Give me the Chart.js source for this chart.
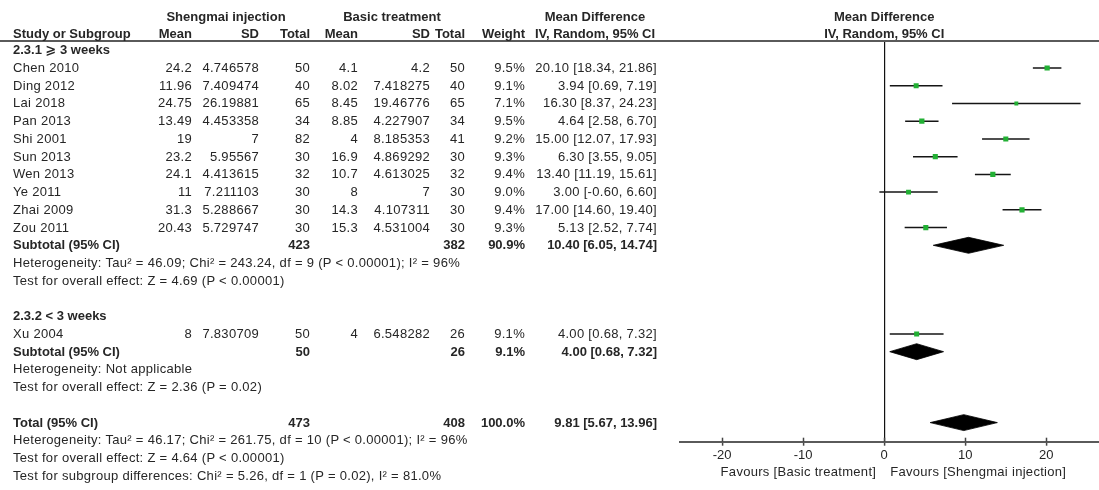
<!DOCTYPE html>
<html>
<head>
<meta charset="utf-8">
<script src="https://cdn.jsdelivr.net/npm/chart.js@4.4.0/dist/chart.umd.min.js"></script>
<style>
  html, body { margin: 0; padding: 0; background: #fff; }
  #wrap { position: relative; width: 1099px; height: 490px; overflow: hidden;
          font-family: "Liberation Sans", Arial, "DejaVu Sans", "Noto Sans CJK SC", sans-serif; color: #262626; }
  #chart { position: absolute; left: 0; top: 0; }
  .t { position: absolute; white-space: nowrap; font-size: 13px; line-height: 18px; height: 18px; letter-spacing: 0.3px; }
  .b { font-weight: bold; letter-spacing: 0; }
  #rule { position: absolute; left: 0; top: 40px; width: 1099px; height: 2px; background: #5a5a5a; }
</style>
</head>
<body>
<div id="wrap">
  <canvas id="chart" width="1099" height="490"></canvas>
  <div id="rule"></div>
</div>
<script>
// ---- study data ----
const studyNames = ['Chen 2010', 'Ding 2012', 'Lai 2018', 'Pan 2013', 'Shi 2001', 'Sun 2013',
                    'Wen 2013', 'Ye 2011', 'Zhai 2009', 'Zou 2011', 'Xu 2004'];
const subgroupOf = [0, 0, 0, 0, 0, 0, 0, 0, 0, 0, 1];
const smMean  = [24.2, 11.96, 24.75, 13.49, 19, 23.2, 24.1, 11, 31.3, 20.43, 8];
const smSD    = [4.746578, 7.409474, 26.19881, 4.453358, 7, 5.95567, 4.413615, 7.211103, 5.288667, 5.729747, 7.830709];
const smTotal = [50, 40, 65, 34, 82, 30, 32, 30, 30, 30, 50];
const btMean  = [4.1, 8.02, 8.45, 8.85, 4, 16.9, 10.7, 8, 14.3, 15.3, 4];
const btSD    = [4.2, 7.418275, 19.46776, 4.227907, 8.185353, 4.869292, 4.613025, 7, 4.107311, 4.531004, 6.548282];
const btTotal = [50, 40, 65, 34, 41, 30, 32, 30, 30, 30, 26];
const weight  = [9.5, 9.1, 7.1, 9.5, 9.2, 9.3, 9.4, 9.0, 9.4, 9.3, 9.1];
const md      = [20.10, 3.94, 16.30, 4.64, 15.00, 6.30, 13.40, 3.00, 17.00, 5.13, 4.00];
const ciLow   = [18.34, 0.69, 8.37, 2.58, 12.07, 3.55, 11.19, -0.60, 14.60, 2.52, 0.68];
const ciHigh  = [21.86, 7.19, 24.23, 6.70, 17.93, 9.05, 15.61, 6.60, 19.40, 7.74, 7.32];

// ---- pooled estimates: subgroup 1, subgroup 2, overall ----
const pooledLabels  = ['Subtotal (95% CI)', 'Subtotal (95% CI)', 'Total (95% CI)'];
const pooledSmTotal = [423, 50, 473];
const pooledBtTotal = [382, 26, 408];
const pooledWeight  = [90.9, 9.1, 100.0];
const pooledMd      = [10.40, 4.00, 9.81];
const pooledLow     = [6.05, 0.68, 5.67];
const pooledHigh    = [14.74, 7.32, 13.96];

const subgroupTitles = ['2.3.1 \u2A7E 3 weeks', '2.3.2 < 3 weeks'];
const heterogeneityNotes = [
  'Heterogeneity: Tau\u00B2 = 46.09; Chi\u00B2 = 243.24, df = 9 (P < 0.00001); I\u00B2 = 96%',
  'Heterogeneity: Not applicable',
  'Heterogeneity: Tau\u00B2 = 46.17; Chi\u00B2 = 261.75, df = 10 (P < 0.00001); I\u00B2 = 96%'
];
const effectNotes = [
  'Test for overall effect: Z = 4.69 (P < 0.00001)',
  'Test for overall effect: Z = 2.36 (P = 0.02)',
  'Test for overall effect: Z = 4.64 (P < 0.00001)'
];
const subgroupDiffNote = 'Test for subgroup differences: Chi\u00B2 = 5.26, df = 1 (P = 0.02), I\u00B2 = 81.0%';

// ---- axis ----
const tickValues = [-20, -10, 0, 10, 20];
const favourLeft = 'Favours [Basic treatment]';
const favourRight = 'Favours [Shengmai injection]';

// ---- row layout (one row per line of the table) ----
const studyRow = [], pooledRow = [], hetRow = [], effectRow = [], titleRow = [];
let row = 0;
subgroupTitles.forEach((title, g) => {
  titleRow[g] = row++;
  studyNames.forEach((n, i) => { if (subgroupOf[i] === g) studyRow[i] = row++; });
  pooledRow[g] = row++;
  hetRow[g] = row++;
  effectRow[g] = row++;
  row++;
});
pooledRow[2] = row++;
hetRow[2] = row++;
effectRow[2] = row++;
const subgroupDiffRow = row++;

// ---- styling ----
const GREEN = 'rgb(34,176,52)';
const LINE = '#151515';
const DIAMOND_HALF = 0.45;   // half-height of the pooled diamonds, in rows
const FONT = '"Liberation Sans", Arial, sans-serif';

Chart.defaults.font.family = FONT;

const datasets = [];
datasets.push({
  type: 'scatter',
  data: md.map((v, i) => ({ x: v, y: studyRow[i] })),
  pointStyle: 'rect',
  pointRadius: weight.map(w => w * 0.55 / Math.SQRT2),
  backgroundColor: GREEN,
  borderWidth: 0,
  order: 0
});
md.forEach((v, i) => {
  datasets.push({
    type: 'line',
    data: [{ x: ciLow[i], y: studyRow[i] }, { x: ciHigh[i], y: studyRow[i] }],
    borderColor: LINE, borderWidth: 1.5, pointRadius: 0, fill: false, order: 2
  });
});
pooledMd.forEach((v, k) => {
  const r = pooledRow[k];
  datasets.push({
    type: 'line',
    data: [
      { x: pooledLow[k], y: r },
      { x: v, y: r - DIAMOND_HALF },
      { x: pooledHigh[k], y: r },
      { x: v, y: r + DIAMOND_HALF },
      { x: pooledLow[k], y: r }
    ],
    borderColor: '#000', borderWidth: 0.8, backgroundColor: '#000',
    pointRadius: 0, fill: 'shape', tension: 0, order: 1
  });
});

// short tick marks on the upper side of the axis line
const innerTicks = {
  id: 'innerTicks',
  afterDraw(chart) {
    const s = chart.scales.x, ctx = chart.ctx, y = chart.chartArea.bottom;
    ctx.save();
    ctx.strokeStyle = '#444';
    ctx.lineWidth = 1.5;
    s.ticks.forEach(t => {
      const x = Math.round(s.getPixelForValue(t.value)) + 0.5;
      ctx.beginPath(); ctx.moveTo(x, y - 4); ctx.lineTo(x, y); ctx.stroke();
    });
    ctx.restore();
  }
};

const chart = new Chart(document.getElementById('chart'), {
  type: 'scatter',
  data: { datasets },
  plugins: [innerTicks],
  options: {
    responsive: false,
    animation: false,
    events: [],
    layout: { autoPadding: false, padding: { left: 680, top: 40.7, right: 0, bottom: 0 } },
    plugins: { legend: { display: false }, tooltip: { enabled: false } },
    scales: {
      x: {
        type: 'linear',
        position: 'bottom',
        min: -25.2,
        max: 26.5,
        afterBuildTicks: s => { s.ticks = tickValues.map(v => ({ value: v })); },
        afterFit: s => { s.height = 48.3; s.paddingLeft = 0; s.paddingRight = 0; },
        grid: {
          drawOnChartArea: true,
          color: c => (c.tick && c.tick.value === 0) ? '#111' : 'rgba(0,0,0,0)',
          lineWidth: 1.2,
          drawTicks: true,
          tickLength: 4,
          tickColor: '#444',
          tickWidth: 1.5
        },
        border: { display: true, color: '#5a5a5a', width: 2 },
        ticks: {
          font: { family: FONT, size: 13 },
          color: '#262626',
          padding: 2,
          callback: v => String(v)
        }
      },
      y: { type: 'linear', display: false, reverse: true, min: -0.54, max: 22.077 }
    }
  }
});

// ---- table text, placed on the same rows as the plot ----
const wrap = document.getElementById('wrap');
const W = 1099;
const yOf = r => chart.scales.y.getPixelForValue(r);
function put(text, x, y, align, bold) {
  const d = document.createElement('div');
  d.className = 't' + (bold ? ' b' : '');
  d.textContent = text;
  if (align === 'right') { d.style.right = (W - x) + 'px'; d.style.textAlign = 'right'; }
  else if (align === 'center') { d.style.left = (x - 200) + 'px'; d.style.width = '400px'; d.style.textAlign = 'center'; }
  else d.style.left = x + 'px';
  d.style.top = (y - 9) + 'px';
  wrap.appendChild(d);
}

const COL = { name: 13, smMean: 192, smSD: 259, smTotal: 310, btMean: 358, btSD: 430,
              btTotal: 465, weight: 525, ci: 657, ciHead: 595 };
const x0 = chart.scales.x.getPixelForValue(0);
const head1 = yOf(-1.9), head2 = yOf(-0.9);

put('Shengmai injection', 226, head1, 'center', true);
put('Basic treatment', 392, head1, 'center', true);
put('Mean Difference', COL.ciHead, head1, 'center', true);
put('Mean Difference', x0, head1, 'center', true);
put('Study or Subgroup', COL.name, head2, 'left', true);
put('Mean', COL.smMean, head2, 'right', true);
put('SD', COL.smSD, head2, 'right', true);
put('Total', COL.smTotal, head2, 'right', true);
put('Mean', COL.btMean, head2, 'right', true);
put('SD', COL.btSD, head2, 'right', true);
put('Total', COL.btTotal, head2, 'right', true);
put('Weight', COL.weight, head2, 'right', true);
put('IV, Random, 95% CI', COL.ciHead, head2, 'center', true);
put('IV, Random, 95% CI', x0, head2, 'center', true);

const ciText = (m, l, h) => m.toFixed(2) + ' [' + l.toFixed(2) + ', ' + h.toFixed(2) + ']';

subgroupTitles.forEach((t, g) => put(t, COL.name, yOf(titleRow[g]), 'left', true));

studyNames.forEach((n, i) => {
  const y = yOf(studyRow[i]);
  put(n, COL.name, y, 'left', false);
  put(String(smMean[i]), COL.smMean, y, 'right', false);
  put(String(smSD[i]), COL.smSD, y, 'right', false);
  put(String(smTotal[i]), COL.smTotal, y, 'right', false);
  put(String(btMean[i]), COL.btMean, y, 'right', false);
  put(String(btSD[i]), COL.btSD, y, 'right', false);
  put(String(btTotal[i]), COL.btTotal, y, 'right', false);
  put(weight[i].toFixed(1) + '%', COL.weight, y, 'right', false);
  put(ciText(md[i], ciLow[i], ciHigh[i]), COL.ci, y, 'right', false);
});

pooledLabels.forEach((lab, k) => {
  const y = yOf(pooledRow[k]);
  put(lab, COL.name, y, 'left', true);
  put(String(pooledSmTotal[k]), COL.smTotal, y, 'right', true);
  put(String(pooledBtTotal[k]), COL.btTotal, y, 'right', true);
  put(pooledWeight[k].toFixed(1) + '%', COL.weight, y, 'right', true);
  put(ciText(pooledMd[k], pooledLow[k], pooledHigh[k]), COL.ci, y, 'right', true);
  put(heterogeneityNotes[k], COL.name, yOf(hetRow[k]), 'left', false);
  put(effectNotes[k], COL.name, yOf(effectRow[k]), 'left', false);
});
put(subgroupDiffNote, COL.name, yOf(subgroupDiffRow), 'left', false);

// favour captions under the axis, either side of zero
const favY = 471.7;
put(favourLeft, x0 - 8, favY, 'right', false);
put(favourRight, x0 + 6, favY, 'left', false);
</script>
</body>
</html>
